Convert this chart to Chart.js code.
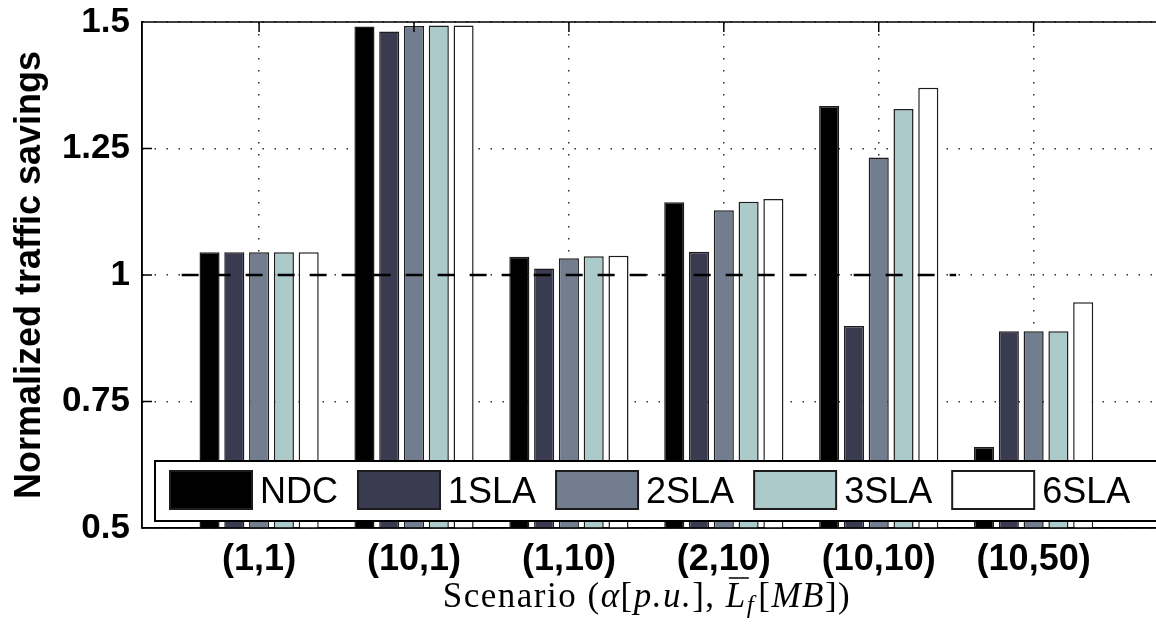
<!DOCTYPE html>
<html>
<head>
<meta charset="utf-8">
<script src="https://cdn.jsdelivr.net/npm/chart.js@4.4.0/dist/chart.umd.min.js"></script>
<style>
  html, body { margin: 0; padding: 0; background: #fff; }
  #wrap { width: 1156px; height: 626px; position: relative; }
</style>
</head>
<body>
<div id="wrap"><canvas id="savingsChart"></canvas></div>
<script>
// scenarios (alpha, mean flow length) and their positions on the x axis
const scenarios = ['(1,1)', '(10,1)', '(1,10)', '(2,10)', '(10,10)', '(10,50)'];
const scenarioPos = [1, 2, 3, 4, 5, 6];

// normalized traffic savings per scheme
const seriesNames = ['NDC', '1SLA', '2SLA', '3SLA', '6SLA'];
const ndc  = [1.045, 1.491, 1.036, 1.144, 1.334, 0.660];
const sla1 = [1.045, 1.481, 1.013, 1.046, 0.899, 0.889];
const sla2 = [1.045, 1.492, 1.033, 1.128, 1.232, 0.889];
const sla3 = [1.045, 1.493, 1.037, 1.145, 1.328, 0.889];
const sla6 = [1.045, 1.493, 1.038, 1.150, 1.370, 0.946];
const seriesColors = ['#000000', '#3a3a50', '#727e90', '#adcaca', '#ffffff'];

const yTicks = [0.5, 0.75, 1, 1.25, 1.5];

// reference level y = 1
const refX = [0.5, 5.5];
const refY = [1, 1];

const SANS = '"Liberation Sans", Arial, Helvetica, sans-serif';
const SERIF = '"Liberation Serif", "Times New Roman", serif';

const barSets = [ndc, sla1, sla2, sla3, sla6].map((vals, k) => ({
  type: 'bar',
  label: seriesNames[k],
  data: vals.map((v, i) => ({ x: scenarioPos[i], y: v })),
  backgroundColor: seriesColors[k],
  borderColor: '#1c1c1c',
  borderWidth: 1.5,
  categoryPercentage: 0.8,
  barPercentage: 0.81,
  clip: 0,
  order: 2
}));

const refLine = {
  type: 'line',
  label: 'ref',
  data: refX.map((x, i) => ({ x: x, y: refY[i] })),
  borderColor: '#000',
  borderWidth: 2.5,
  borderDash: [17, 15],
  pointRadius: 0,
  fill: false,
  order: 0
};

// box, inside ticks, legend and the x axis title
const decorations = {
  id: 'decorations',
  afterDatasetsDraw(chart) {
    const { ctx, chartArea: a, scales } = chart;
    const xs = scales.x, ys = scales.y;
    ctx.save();

    ctx.strokeStyle = '#000';
    ctx.lineWidth = 1.5;
    ctx.beginPath();
    ctx.moveTo(a.left, a.top); ctx.lineTo(a.right, a.top);
    ctx.moveTo(a.left, a.bottom); ctx.lineTo(a.right, a.bottom);
    ctx.moveTo(a.left, a.top); ctx.lineTo(a.left, a.bottom);
    scenarioPos.forEach(v => {
      const px = xs.getPixelForValue(v);
      ctx.moveTo(px, a.top); ctx.lineTo(px, a.top + 10);
    });
    yTicks.forEach(v => {
      const py = ys.getPixelForValue(v);
      ctx.moveTo(a.left, py); ctx.lineTo(a.left + 10, py);
    });
    ctx.stroke();

    // legend box
    const lx = 155, ly = 461, lh = 60;
    ctx.fillStyle = '#fff';
    ctx.fillRect(lx, ly, chart.width + 20 - lx, lh);
    ctx.lineWidth = 2;
    ctx.strokeRect(lx, ly, chart.width + 20 - lx, lh);

    ctx.font = '36px ' + SANS;
    ctx.textBaseline = 'alphabetic';
    let cx = 170;
    chart.data.datasets.filter(d => d.type === 'bar').forEach(d => {
      ctx.fillStyle = d.backgroundColor;
      ctx.fillRect(cx, 471, 82, 38);
      ctx.strokeStyle = '#1c1c1c';
      ctx.lineWidth = 2;
      ctx.strokeRect(cx, 471, 82, 38);
      ctx.fillStyle = '#000';
      ctx.fillText(d.label, cx + 90, 503);
      cx += 82 + 8 + ctx.measureText(d.label).width + 20;
    });

    // x axis title with math part
    const fs = 35;
    const parts = [
      { t: 'Scenario (', s: '' },
      { t: '\u03B1', s: 'italic ' },
      { t: '[', s: '' },
      { t: 'p.u.', s: 'italic ' },
      { t: '], ', s: '' },
      { t: 'L', s: 'italic ', bar: true },
      { t: 'f', s: 'italic ', sub: true },
      { t: '[', s: '' },
      { t: 'MB', s: 'italic ' },
      { t: '])', s: '' }
    ];
    ctx.letterSpacing = '1.5px';
    const fontOf = p => p.s + (p.sub ? Math.round(fs * 0.72) : fs) + 'px ' + SERIF;
    let total = 0;
    parts.forEach(p => { ctx.font = fontOf(p); p.w = ctx.measureText(p.t).width + (p.sub ? 3 : 0); total += p.w; });
    let tx = 647 - total / 2;
    const base = 607;
    ctx.fillStyle = '#000';
    parts.forEach(p => {
      ctx.font = fontOf(p);
      ctx.fillText(p.t, tx, p.sub ? base + 6 : base);
      if (p.bar) {
        ctx.lineWidth = 1.5;
        ctx.strokeStyle = '#000';
        ctx.beginPath();
        ctx.moveTo(tx + 3, base - 29);
        ctx.lineTo(tx + p.w + 2, base - 29);
        ctx.stroke();
      }
      tx += p.w;
    });

    ctx.restore();
  }
};

new Chart(document.getElementById('savingsChart'), {
  type: 'bar',
  data: { datasets: [refLine].concat(barSets) },
  options: {
    responsive: true,
    maintainAspectRatio: false,
    animation: false,
    layout: { padding: { top: 22, right: 0, left: 0, bottom: 0 } },
    plugins: {
      legend: { display: false },
      tooltip: { enabled: false }
    },
    scales: {
      x: {
        type: 'linear',
        offset: false,
        min: 0.244,
        max: 6.79,
        afterBuildTicks: s => { s.ticks = scenarioPos.map(v => ({ value: v })); },
        afterFit: s => { s.height = 98; s.paddingLeft = 0; s.paddingRight = 0; },
        ticks: {
          autoSkip: false,
          maxRotation: 0,
          padding: 10,
          color: '#000',
          font: { family: SANS, size: 36, weight: 'bold' },
          callback: (v, i) => scenarios[i]
        },
        grid: { offset: false, color: '#333', lineWidth: 1.5, drawTicks: false },
        border: { color: '#000', width: 1.5, dash: [1.5, 10.5] }
      },
      y: {
        min: 0.5,
        max: 1.5,
        afterBuildTicks: s => { s.ticks = yTicks.map(v => ({ value: v })); },
        afterFit: s => { s.width = 142; s.paddingTop = 0; s.paddingBottom = 0; },
        ticks: {
          padding: 12,
          color: '#000',
          font: { family: SANS, size: 35, weight: 'bold' },
          callback: v => String(v)
        },
        grid: { color: '#333', lineWidth: 1.5, drawTicks: false },
        border: { color: '#000', width: 1.5, dash: [1.5, 10.5] },
        title: {
          display: true,
          text: 'Normalized traffic savings',
          color: '#000',
          font: { family: SANS, size: 36, weight: 'bold' },
          padding: { top: 8, bottom: 0 }
        }
      }
    }
  },
  plugins: [decorations]
});
</script>
</body>
</html>
